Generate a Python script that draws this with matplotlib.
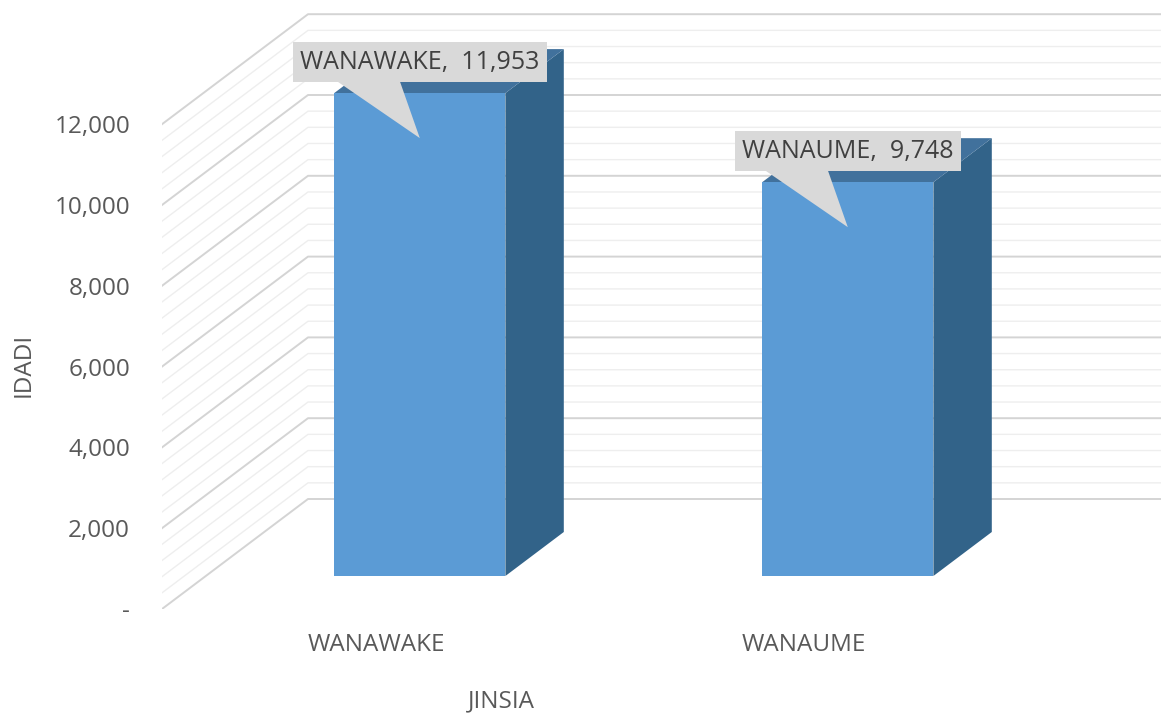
import numpy as np
import matplotlib.pyplot as plt
import matplotlib.transforms as mtransforms
from matplotlib.patches import Polygon

plt.rcParams['font.family'] = ['Open Sans', 'DejaVu Sans']

# data
categories = ['WANAWAKE', 'WANAUME']
counts = [11953, 9748]
y_ticks = [0, 2000, 4000, 6000, 8000, 10000, 12000]
y_tick_labels = ['-', '2,000', '4,000', '6,000', '8,000', '10,000', '12,000']
y_minor_step = 400
x_title = 'JINSIA'
y_title = 'IDADI'

# oblique "3d" look like the excel chart
DX = 146 / 428.0          # depth shift in category units
DY = 110 / 80.8 * 2000    # depth shift in value units
BAR_W = 0.4
D0, D1 = 0.3, 0.7          # bar sits in the middle of the depth


def proj(x, v, d):
    return x + d * DX, v + d * DY


fig = plt.figure(figsize=(11.61, 7.17), dpi=100)
ax = fig.add_axes([162 / 1161, 108 / 717, 999 / 1161, 609 / 717])
ax.set_xlim(-0.5, -0.5 + 999 / 428.0)
ax.set_ylim(0, 609 / 80.8 * 2000)
for s in ax.spines.values():
    s.set_visible(False)

# side wall + back wall gridlines
x_left, x_right = -0.5, len(categories) - 0.5
for v in range(0, max(y_ticks) + 1, y_minor_step):
    major = v % 2000 == 0
    p0 = proj(x_left, v, 0)
    p1 = proj(x_left, v, 1)
    p2 = proj(x_right, v, 1)
    ax.plot([p0[0], p1[0], p2[0]], [p0[1], p1[1], p2[1]],
            color='#d4d4d4' if major else '#eeeeee',
            lw=1.4 if major else 1.0, zorder=1)

# bars
for i, val in enumerate(counts):
    xl, xr = i - BAR_W / 2, i + BAR_W / 2
    side = [proj(xr, 0, D0), proj(xr, 0, D1), proj(xr, val, D1), proj(xr, val, D0)]
    top = [proj(xl, val, D0), proj(xr, val, D0), proj(xr, val, D1), proj(xl, val, D1)]
    front = [proj(xl, 0, D0), proj(xr, 0, D0), proj(xr, val, D0), proj(xl, val, D0)]
    ax.add_patch(Polygon(side, closed=True, fc='#326389', ec='none', zorder=3))
    ax.add_patch(Polygon(top, closed=True, fc='#41719c', ec='none', zorder=3))
    ax.add_patch(Polygon(front, closed=True, fc='#5b9bd5', ec='none', zorder=4))

    # callout label
    tx, ty = proj(i, val, D0)
    trans = fig.dpi_scale_trans + mtransforms.ScaledTranslation(tx, ty, ax.transData)
    ax.add_patch(Polygon([(0.0, -0.45), (-0.83, 0.12), (-0.20, 0.12)], closed=True,
                         fc='#d9d9d9', ec='none', transform=trans, zorder=5))
    ax.text(0.0, 0.31, f'{categories[i]},  {val:,}', transform=trans,
            ha='center', va='center', fontsize=18, color='#404040', zorder=6,
            bbox=dict(boxstyle='square,pad=0.3', fc='#d9d9d9', ec='none'))

ax.set_yticks(y_ticks)
ax.set_yticklabels(y_tick_labels)
ax.set_xticks(range(len(categories)))
ax.set_xticklabels(categories)
ax.tick_params(axis='y', length=0, pad=23, labelsize=17.5, labelcolor='#595959')
ax.tick_params(axis='x', length=0, pad=17, labelsize=17.5, labelcolor='#595959')

ax.set_xlabel(x_title, fontsize=17.5, color='#595959', va='center')
ax.xaxis.set_label_coords(0.34, -0.152)
ax.set_ylabel(y_title, fontsize=17.5, color='#595959', va='center')
ax.yaxis.set_label_coords(-0.139, 0.40)

plt.savefig('out.png', dpi=100)
